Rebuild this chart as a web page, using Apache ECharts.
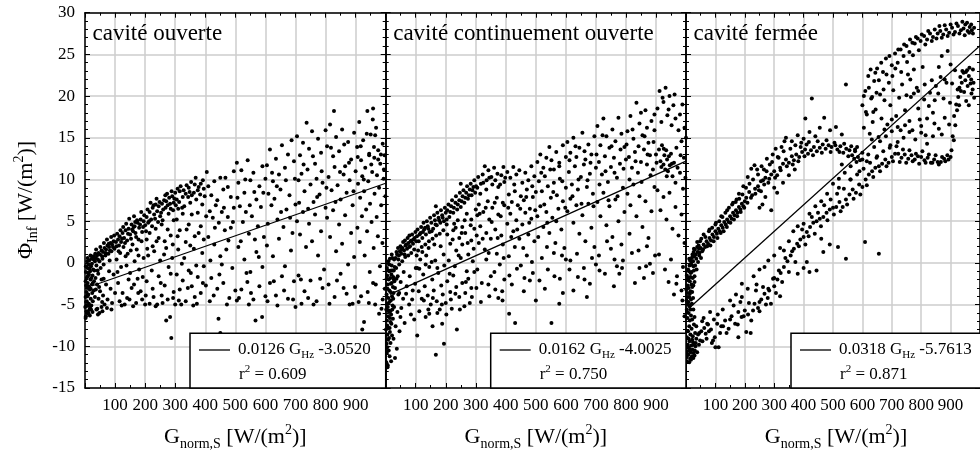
<!DOCTYPE html>
<html><head><meta charset="utf-8">
<script src="https://cdn.jsdelivr.net/npm/echarts@6/dist/echarts.min.js"></script>
<style>html,body{margin:0;padding:0;background:#fff}#c{width:980px;height:456px}</style>
</head><body><div id="c"></div>
<script>
// ---------- data ----------
const panelTitles = ['cavité ouverte', 'cavité continuement ouverte', 'cavité fermée'];
const fitSlope = ['0.0126', '0.0162', '0.0318'];
const fitIntercept = ['-3.0520', '-4.0025', '-5.7613'];
const fitR2 = ['0.609', '0.750', '0.871'];
const fitLineOuverte = [[27, -2.71], [1000, 9.55]];
const fitLineContinu = [[14, -3.78], [1000, 12.20]];
const fitLineFermee = [[12, -5.38], [1000, 26.04]];

const ptsOuverte = [
[3,-6.4],[5,-5.8],[4,-5.2],[6,-4.6],[8,-4.0],[5,-3.5],[7,-3.0],[9,-2.4],[6,-1.8],[10,-1.2],[8,-0.6],[12,-0.2],[14,0.3],[4,-2.7],[11,-3.8],[13,-4.9],[15,-5.6],[16,-3.2],[18,-2.0],[17,-1.0],[20,-0.4],[22,0.5],[19,-4.3],[21,-5.1],[23,-2.6],[25,-1.5],[24,-3.6],[27,-0.8],[28,0.8],[26,-4.6],[10,-5.9],[2,-4.1],[3,-1.1],[12,-6.1],[14,-2.9],[30,-2.2],[29,-3.3],[7,0.2],[16,-6.3],[20,-5.6],
[1,-5.3],[2,-2.2],[3,-0.4],[4,-4.7],[6,-6.0],[7,-3.9],[9,-1.6],[11,-2.8],[13,-1.4],[15,-0.7],[17,-5.3],[19,-3.1],[21,-1.8],[23,-0.1],[25,-5.9],[26,-2.4],[31,-0.9],[33,-4.1],[36,-3.2],[41,-5.5],[44,-1.3],[47,-2.9],[52,-0.6],[57,-4.7],[62,-1.9],[34,1.1],[29,0.4],[18,0.9],[9,0.6],[2,-6.6],[12,-5.1],[43,-6.2],[58,-5.8],[73,-5.4],[88,-5.6],
[33,0.2],[36,0.6],[40,0.9],[45,1.2],[50,1.0],[55,1.5],[60,1.3],[65,1.8],[70,1.6],[75,2.1],[80,1.9],[85,2.4],[90,2.2],[95,2.6],[38,-0.3],[48,0.2],[58,0.5],[68,0.9],[78,1.1],[88,1.4],[98,1.7],[42,-0.9],[62,-0.2],[82,0.3],
[37,1.6],[43,0.4],[51,1.9],[57,0.8],[63,2.4],[69,1.2],[73,2.8],[79,2.3],[83,1.5],[87,3.1],[93,1.9],[97,3.3],[103,2.5],[107,3.5],[113,2.1],[118,3.9],[123,2.9],[127,4.3],[133,2.4],[137,4.7],[143,3.5],[147,5.3],[153,2.9],[157,4.0],[163,5.6],[168,3.6],[173,5.1],[178,2.8],[183,4.6],[187,6.1],[193,4.3],[197,5.7],[203,3.8],[208,6.4],[213,5.0],[218,7.2],[223,4.4],[228,6.9],[233,5.3],[238,7.7],[243,4.9],[248,7.3],[253,6.0],[258,5.1],[263,7.5],[268,6.6],[273,8.3],[278,5.9],[283,7.1],[288,8.6],[293,6.3],[297,7.7],[302,6.9],[308,8.9],[313,7.3],[318,9.2],[323,6.6],[328,8.7],[338,9.3],[343,7.9],[348,8.5],[353,9.7],[362,8.4],[368,10.2],[378,9.1],[383,8.2],[392,9.9],[398,8.0],
[35,-1.8],[40,-2.6],[50,-3.4],[55,-2.0],[60,-3.9],[70,-2.6],[75,-4.4],[85,-3.1],[90,-4.8],[95,-1.4],[65,-5.0],[45,-4.3],[100,-3.6],[80,-1.0],[55,-5.3],[38,-5.6],[48,-6.0],
[105,2.0],[110,2.8],[115,3.2],[120,2.5],[125,3.6],[130,3.0],[135,3.9],[140,2.7],[145,4.1],[150,3.4],[155,4.6],[160,3.8],[165,4.4],[170,3.1],[175,4.8],[180,4.2],[185,5.2],[190,3.7],[195,5.0],[200,4.5],[112,1.4],[128,1.9],[142,1.1],[158,2.2],[172,1.6],[188,2.6],[167,4.9],[162,4.3],
[105,0.4],[120,-0.5],[135,0.8],[150,-1.2],[165,0.2],[180,-0.8],[195,0.6],[110,-2.4],[125,-3.6],[140,-4.2],[155,-3.0],[170,-4.8],[185,-3.4],[200,-5.0],[115,-4.6],[145,-2.0],[175,-1.9],[190,-4.4],[132,-5.0],[160,-5.2],
[205,5.5],[210,4.8],[215,6.1],[220,5.2],[225,6.6],[230,5.8],[235,7.0],[240,6.2],[245,6.8],[250,5.6],[256,7.1],[260,6.4],[267,8.1],[270,7.4],[275,6.9],[280,7.8],[285,6.5],[290,8.0],[295,7.2],[300,8.4],
[205,2.8],[215,3.6],[225,2.0],[235,4.1],[245,3.0],[255,4.6],[265,2.6],[275,4.0],[285,3.3],[295,5.1],[210,0.9],[230,1.4],[250,0.3],[270,1.8],[290,0.6],
[205,-2.2],[215,-4.9],[225,-3.1],[235,-5.2],[245,-1.6],[255,-3.9],[265,-2.7],[275,-4.4],[285,-1.3],[295,-3.5],[283,-6.5],[287,-9.0],[270,-6.9],[240,-5.0],[300,-5.0],
[305,7.6],[315,8.6],[325,7.9],[335,8.3],[345,9.0],[355,8.1],[365,9.4],[375,8.7],[385,9.5],[395,8.9],[310,6.5],[330,6.8],[350,7.2],[370,7.6],[390,7.0],
[305,5.2],[315,3.9],[325,5.9],[335,2.5],[345,4.6],[355,5.8],[365,3.2],[375,6.0],[385,4.4],[395,2.8],[310,1.6],[330,0.6],[350,2.1],[370,-0.3],[390,1.2],
[305,-1.4],[315,-3.2],[325,-2.1],[335,-4.6],[345,-0.9],[355,-2.8],[365,-4.1],[375,-1.7],[385,-3.6],[395,-0.4],[320,-5.0],[360,-5.1],
[108,-1.1],[117,1.2],[138,-0.3],[152,1.5],[163,-2.6],[178,0.9],[192,-1.7],[207,1.7],[222,-0.9],[238,2.6],[252,-2.4],[263,1.0],[278,-0.5],[292,2.2],[308,3.2],[322,-0.1],[338,4.0],[352,-1.2],[362,1.7],[378,3.6],[392,-2.4],[403,5.6],[417,0.3],[432,4.2],[447,-1.4],[462,6.6],[477,2.7],[492,4.9],[507,7.8],[518,2.6],[533,10.0],[548,6.9],[563,8.5],[578,0.7],[593,8.4],[608,4.7],[622,10.8],[638,9.2],[652,6.1],[668,9.9],[682,5.4],[698,10.1],[712,7.2],[727,11.8],[742,6.5],[758,12.8],[772,7.9],[787,11.0],[803,9.0],[818,13.8],[833,7.3],[848,10.9],[862,14.2],[878,12.0],[893,8.6],[907,12.7],[917,14.0],[927,10.0],[937,15.5],[952,11.8],[961,13.9],[971,10.5],[984,13.0],[994,11.2],[999,8.0],
[122,-5.1],[148,-4.4],[177,-3.6],[202,-3.9],[228,-4.1],[258,-4.8],[293,-4.2],[312,-4.5],[342,-3.0],[372,-4.9],[402,-2.7],[428,-3.9],[472,-5.0],[512,-4.2],[537,-1.2],[552,-3.6],[607,-4.6],[628,-2.2],[662,-3.3],[692,-4.4],[718,-2.0],[742,-4.2],[782,-1.9],[813,-4.9],[838,-2.1],[898,-2.9],[918,-4.0],[944,-4.8],[958,-2.4],[986,-5.5],
[405,10.9],[410,9.2],[420,8.1],[430,9.8],[440,7.5],[450,10.2],[460,8.8],[467,10.2],[475,9.1],[485,7.9],[495,11.0],[505,12.0],[415,6.2],[425,5.4],[435,6.9],[445,4.8],[455,6.1],[465,3.9],[475,5.5],[485,4.2],[495,6.6],[410,3.1],[430,2.2],[450,0.8],[470,1.6],[490,-0.6],[420,-1.8],[440,-3.1],[460,-2.4],[480,-4.2],[500,-3.3],[444,-6.7],[450,-8.4],[415,-4.6],[505,-4.5],[455,-0.2],
[510,9.6],[520,11.1],[530,8.4],[541,12.3],[550,9.9],[560,10.8],[570,7.6],[580,9.2],[590,11.6],[600,10.1],[515,6.8],[525,4.9],[535,6.1],[545,3.5],[555,5.6],[565,2.8],[575,4.4],[585,6.7],[595,3.1],[510,1.9],[530,0.4],[550,-1.1],[570,1.3],[590,-0.5],[520,-3.2],[540,-2.3],[560,-4.4],[580,-2.8],[600,-4.0],[567,-6.9],[589,-6.5],[545,-5.0],
[605,11.7],[615,13.6],[625,9.8],[635,12.5],[645,10.6],[655,14.1],[665,11.4],[675,13.0],[687,14.7],[695,12.2],[610,8.3],[620,6.9],[630,7.7],[640,5.2],[650,8.8],[660,4.3],[670,6.4],[680,8.1],[690,3.6],[700,7.0],[605,2.1],[625,0.8],[645,2.9],[665,-0.4],[685,1.5],[615,-2.4],[635,-3.9],[655,-1.6],[675,-4.3],[695,-2.2],[700,-5.3],[640,-5.1],
[705,15.2],[715,12.9],[725,14.4],[737,16.8],[745,13.7],[755,15.8],[765,11.9],[775,14.9],[785,13.2],[800,15.9],[710,9.9],[720,10.7],[730,8.6],[740,11.2],[750,9.4],[760,7.3],[770,10.1],[780,8.2],[790,9.6],[800,6.6],[705,5.0],[715,3.4],[725,6.1],[735,1.9],[745,4.7],[755,2.6],[765,5.8],[775,0.9],[785,3.8],[795,-0.8],[710,-1.5],[730,-3.4],[750,-2.1],[770,-4.6],[790,-3.0],[760,-5.0],[720,-4.9],
[805,14.0],[815,16.6],[825,12.8],[828,18.2],[835,15.1],[845,13.4],[855,16.0],[865,11.6],[875,14.5],[885,12.4],[895,15.6],[810,10.3],[820,8.7],[830,11.5],[840,9.3],[850,7.6],[860,10.6],[870,8.4],[880,9.9],[890,6.9],[900,11.0],[805,5.4],[815,3.1],[825,6.3],[835,1.4],[845,4.6],[855,2.3],[865,5.7],[875,-0.2],[885,3.6],[895,0.7],[810,-2.6],[830,-4.1],[850,-1.3],[870,-3.7],[890,-4.9],[880,-5.0],[860,-3.0],
[905,13.9],[912,16.9],[918,12.3],[925,14.7],[932,11.4],[939,18.2],[945,13.1],[950,15.4],[958,18.5],[962,12.6],[968,16.2],[975,13.5],[982,11.9],[990,14.3],[996,12.9],[908,9.5],[915,7.8],[922,10.4],[928,8.6],[935,6.4],[942,9.8],[948,7.1],[955,10.9],[963,8.3],[970,5.5],[978,9.0],[985,6.9],[993,10.1],[906,4.2],[914,2.5],[921,5.6],[930,0.9],[938,3.8],[947,-1.1],[953,4.9],[960,1.8],[967,-2.6],[974,3.2],[981,-0.4],[989,2.4],[997,-3.1],[910,-4.7],[922,-8.0],[928,-7.1],[940,-3.5],[965,-5.0],[978,-6.1],[990,-4.4],[957,17.2],[965,15.3],[945,12.9],[975,12.4]
];

const ptsContinu = [
[2,-11.9],[4,-10.8],[3,-9.7],[6,-8.6],[5,-7.5],[8,-6.4],[7,-5.3],[9,-4.2],[6,-3.1],[10,-2.0],[12,-1.0],[11,-0.2],[14,0.5],[4,-6.9],[8,-9.2],[13,-7.8],[15,-5.8],[12,-4.7],[16,-3.5],[17,-2.5],[19,-1.4],[20,-0.3],[22,0.6],[18,-6.2],[21,-4.0],[24,-2.9],[25,-1.7],[23,-5.1],[27,-0.9],[28,0.4],[3,-3.8],[5,-1.5],[10,-10.5],[14,-8.3],[26,-3.6],[29,-2.2],[30,-0.5],[7,-12.3],[11,-5.9],[16,-7.1],[37,-10.3],
[1,-8.0],[2,-5.6],[3,-1.9],[4,-0.6],[5,-10.1],[6,-4.9],[7,-2.6],[8,-7.8],[9,-0.9],[10,-5.7],[11,-9.0],[12,-3.3],[13,-11.2],[14,-6.6],[15,-1.8],[16,-9.6],[17,-4.5],[18,-0.9],[19,-7.3],[20,-2.4],[21,-8.7],[22,-5.6],[23,-0.9],[24,-6.7],[25,-4.3],[26,-9.1],[27,-2.0],[28,-5.3],[31,-3.0],[33,-7.6],[36,-1.9],[39,-5.9],[42,-3.8],[46,-8.2],[49,-6.5],[6,-12.5],[18,-11.8],[31,-11.4],[9,0.2],[20,1.0],
[33,0.6],[38,1.0],[42,0.4],[47,1.4],[52,1.1],[56,1.8],[61,1.5],[66,2.1],[71,1.7],[76,2.4],[81,2.0],[86,2.7],[91,2.3],[96,3.0],[35,-0.6],[45,-0.2],[55,0.2],[65,0.7],[75,0.9],[85,1.2],[95,1.6],[40,-1.6],[50,-2.3],[60,-1.1],[70,-2.8],[80,-1.6],[90,-3.3],[100,-0.6],[45,-3.6],[58,-4.3],[68,-3.7],[78,-5.0],[88,-4.4],[98,-2.5],[52,-5.4],[84,-6.2],[95,-6.8],[63,-7.2],
[36,1.3],[41,1.8],[44,0.9],[49,2.0],[53,1.6],[58,2.5],[63,1.0],[64,2.7],[68,2.2],[73,3.0],[78,1.9],[79,3.3],[83,2.6],[88,3.4],[93,2.8],[99,3.7],[102,2.6],[106,4.0],[113,3.4],[118,4.3],[124,3.7],[126,4.8],[131,4.2],[137,5.0],[142,4.1],[148,5.4],[153,3.8],[161,5.7],[166,4.6],[172,6.0],[178,5.1],[184,6.3],[190,5.4],[197,6.6],[203,5.2],[209,7.0],[215,6.1],[221,7.5],[227,6.6],[234,8.0],[240,7.0],[247,8.4],[253,7.4],[259,8.7],[265,7.8],[271,9.2],[277,8.1],[283,9.5],[289,8.7],[295,9.9],[301,9.2],[308,10.3],[317,9.5],[323,10.6],[336,9.9],[342,11.1],[352,10.3],[361,11.4],[372,10.7],[381,9.4],[392,11.5],[398,10.2],
[104,3.2],[110,2.6],[116,3.6],[122,3.0],[128,4.0],[134,3.4],[140,4.4],[146,3.7],[152,4.8],[158,4.1],[164,5.1],[170,4.5],[176,5.4],[182,4.8],[188,5.7],[194,5.0],[200,6.0],[167,6.8],[108,1.5],[120,1.9],[132,2.2],[144,2.6],[156,2.9],[168,3.3],[180,3.5],[192,3.9],
[105,-0.6],[115,0.4],[125,-1.4],[135,0.9],[145,-0.5],[155,-2.0],[165,0.3],[175,-1.2],[185,-2.7],[195,-0.3],[110,-3.4],[120,-4.3],[130,-2.8],[140,-3.9],[150,-5.0],[160,-3.3],[170,-4.6],[180,-5.6],[190,-3.8],[200,-4.8],[105,-8.7],[133,-6.5],[145,-6.1],[167,-11.0],[194,-9.7],[188,-7.3],[156,-7.6],
[103,0.9],[112,-0.7],[122,1.3],[133,-0.2],[143,1.8],[153,0.1],[162,2.2],[172,-0.6],[183,2.0],[193,1.0],[203,4.6],[213,-1.3],[223,2.8],[233,4.2],[243,0.9],[253,3.6],[263,5.1],[273,2.4],[283,4.5],[293,1.7],[303,3.3],[313,5.9],[323,2.9],[333,6.6],[343,1.2],[353,4.9],[363,7.2],[373,3.0],[383,5.6],[393,0.6],[408,6.6],[418,3.1],[428,9.4],[438,4.0],[448,6.5],[458,1.8],[468,7.9],[478,4.8],[488,9.2],[498,6.3],[508,3.1],[518,10.8],[528,7.0],[538,4.8],[548,11.2],[558,8.5],[568,5.0],[578,11.6],[588,9.8],[598,6.6],[612,12.3],[622,8.0],[632,14.0],[642,10.0],[652,7.1],[662,13.4],[672,9.9],[682,12.0],[692,6.8],[702,13.0],[712,9.4],[722,15.3],[732,11.0],[742,7.5],[752,14.0],[762,10.8],[772,8.0],[782,13.6],[792,11.3],[802,14.2],[812,10.0],[822,16.0],[832,12.2],[842,14.0],[852,9.7],[862,15.2],[872,13.0],[882,10.5],[892,14.5],[902,12.0],
[112,-5.8],[127,-4.5],[142,-5.6],[157,-4.2],[172,-6.0],[187,-5.0],[202,-6.2],[217,-4.4],[232,-3.7],[247,-5.6],[267,-2.3],[287,-4.1],[302,-3.0],[317,-4.7],[342,-2.6],[362,-1.1],[388,-3.4],[412,-1.5],[437,-0.7],[462,-1.8],[487,0.1],[512,-2.1],[537,1.9],[562,-1.6],[587,0.9],[612,-0.8],[637,1.1],[662,-2.0],[687,0.6],[712,-0.9],[737,2.6],[762,0.4],[787,-0.6],[812,3.5],[842,1.5],[867,-0.4],[897,0.9],[942,-2.3],[968,-2.5],[988,-4.5],
[205,6.3],[212,5.5],[218,6.8],[225,6.0],[232,7.2],[238,6.4],[245,7.5],[250,6.7],[256,8.0],[262,7.2],[268,8.4],[274,7.7],[280,8.8],[286,8.1],[292,9.1],[298,8.4],[250,9.5],[228,4.7],[240,5.1],[255,4.3],[270,5.9],[285,5.2],[300,6.4],
[205,3.4],[215,2.3],[225,3.9],[235,1.5],[245,3.0],[255,2.2],[265,3.6],[275,1.0],[285,2.7],[295,4.1],[210,0.3],[230,-0.4],[250,0.6],[270,-1.0],[290,0.2],
[205,-2.2],[215,-3.5],[225,-1.5],[235,-2.9],[245,-4.1],[255,-2.4],[265,-3.6],[275,-1.9],[285,-3.0],[295,-1.1],[237,-8.0],[220,-5.5],[262,-5.2],[280,-4.8],
[305,9.0],[315,8.3],[325,9.6],[335,8.8],[345,10.2],[355,9.4],[365,9.9],[375,9.1],[385,10.5],[395,9.7],[330,11.6],[310,7.0],[340,7.4],[370,7.8],[390,7.2],
[305,5.7],[315,4.4],[325,6.1],[335,3.6],[345,5.2],[355,6.6],[365,4.0],[375,5.8],[385,3.3],[395,6.9],[310,2.4],[330,1.6],[350,2.9],[370,1.1],[390,2.2],
[305,-0.8],[320,-2.4],[335,0.4],[350,-1.6],[365,-3.2],[380,-0.2],[395,-2.0],[345,-4.0],[375,-4.2],[389,-4.5],
[405,10.9],[415,10.2],[425,11.5],[435,10.6],[445,11.1],[455,9.6],[465,10.8],[475,9.9],[485,11.6],[495,10.4],[410,8.2],[420,7.3],[430,8.6],[440,6.9],[450,8.0],[460,7.5],[470,8.8],[480,6.5],[490,7.9],[500,8.5],[405,4.7],[415,5.9],[425,3.8],[435,5.1],[445,2.9],[455,4.6],[465,6.0],[475,3.4],[485,5.3],[495,2.6],[410,0.8],[430,1.9],[450,-0.3],[470,0.9],[490,-1.2],[411,-6.1],[431,-7.2],[420,-2.6],[460,-3.4],[480,-2.1],[500,-4.5],
[505,12.1],[515,13.0],[525,11.4],[535,12.6],[545,13.9],[552,12.3],[560,11.2],[568,13.3],[578,12.0],[590,14.1],[600,12.7],[510,9.8],[520,8.6],[530,10.4],[540,9.2],[550,7.8],[560,9.6],[570,8.1],[580,10.1],[590,7.4],[600,9.0],[505,5.6],[515,6.8],[525,4.3],[535,6.1],[545,3.6],[555,5.4],[565,2.4],[575,6.5],[585,4.0],[595,1.8],[520,0.6],[540,-0.8],[560,1.2],[580,-1.9],[600,0.4],[552,-7.2],[578,-4.9],[530,-3.1],[590,-3.6],
[605,14.5],[615,13.2],[625,15.0],[635,12.7],[645,13.8],[655,15.6],[665,12.4],[675,14.2],[685,13.0],[695,15.2],[610,10.9],[620,9.4],[630,11.6],[640,8.8],[650,10.3],[660,11.8],[670,9.1],[680,10.7],[690,8.3],[700,11.4],[605,6.2],[615,7.7],[625,4.8],[635,6.9],[645,3.5],[655,5.7],[665,2.6],[675,7.1],[685,4.2],[695,1.9],[615,0.3],[640,-1.7],[660,-0.6],[680,-2.5],[700,-0.2],[670,-4.1],[625,-3.3],
[705,16.4],[715,14.1],[725,17.3],[735,15.2],[745,13.8],[755,16.0],[765,14.6],[775,17.4],[785,15.5],[795,13.9],[710,12.1],[720,10.6],[730,12.8],[740,9.7],[750,11.5],[760,12.6],[770,10.2],[780,11.9],[790,9.0],[800,12.4],[705,7.3],[715,5.6],[725,8.4],[735,4.5],[745,6.8],[755,3.1],[765,7.6],[775,5.0],[785,2.2],[795,6.1],[710,0.9],[730,-1.3],[750,1.7],[770,-0.4],[790,0.3],[778,-1.3],[760,-2.8],
[805,15.8],[815,17.6],[825,14.9],[835,19.2],[845,16.7],[855,15.3],[865,18.3],[875,14.4],[885,17.0],[895,15.9],[810,12.7],[820,11.4],[830,13.3],[840,10.8],[850,12.1],[860,13.6],[870,11.8],[880,12.9],[890,11.2],[900,13.0],[805,8.3],[815,6.9],[825,9.4],[835,5.6],[845,8.0],[855,4.3],[865,7.4],[875,3.0],[885,6.2],[895,9.1],[820,1.2],[845,-0.6],[870,2.0],[890,-1.2],[830,-2.4],[860,-1.8],[880,-0.1],
[905,18.5],[912,20.6],[918,16.9],[925,19.3],[932,21.0],[938,17.7],[945,20.0],[952,16.5],[958,18.9],[965,17.3],[975,15.9],[985,14.6],[995,16.2],[910,13.6],[915,12.2],[920,14.1],[925,11.8],[928,12.9],[931,11.2],[934,13.5],[937,12.4],[940,11.0],[943,12.8],[946,11.7],[950,13.1],[955,10.4],[960,12.0],[965,9.6],[972,11.4],[980,10.8],[990,8.9],[998,10.2],[905,8.7],[915,6.3],[925,7.9],[935,5.2],[945,8.4],[955,4.1],[965,6.7],[975,3.3],[985,5.8],[995,2.4],[910,1.0],[930,-0.8],[950,0.4],[970,-1.6],[990,-0.5],[995,-6.4],[985,-3.3],[960,-3.8],
[922,19.8],[942,18.4],[962,20.2],[980,17.8],[988,19.0],[895,17.8],[870,16.2],[850,18.0],[1000,15.0],[993,12.6],[982,12.9],[968,13.8],[953,11.9],[936,10.4],[926,13.7],[918,11.5]
];

const ptsFermee = [
[2,-4.5],[4,-3.6],[6,-2.7],[8,-1.8],[10,-1.0],[12,-0.3],[14,0.3],[5,-2.0],[9,-3.0],[13,-2.2],[16,-1.2],[18,-0.2],[20,0.6],[22,1.0],[24,0.2],[26,1.3],[28,0.8],[30,1.6],[11,-4.1],[15,-3.4],[19,-2.6],[23,-1.8],[27,-0.9],[7,-5.0],[3,-5.6],[17,-4.4],[21,-3.5],[25,-2.7],[29,-1.6],
[1,-3.2],[3,-1.5],[5,-4.1],[7,-0.8],[9,-2.1],[11,0.5],[13,-3.7],[15,-1.7],[17,0.2],[19,-1.1],[21,-2.9],[23,0.8],[25,-0.4],[27,1.7],[29,-2.3],[31,-0.3],[33,1.0],[36,-0.8],[38,1.9],[41,0.1],[43,2.1],[46,1.2],[48,2.6],[51,0.6],[4,-5.9],[8,-4.7],[12,-5.2],[16,-5.6],[20,-4.9],[24,-4.2],
[2,-11.3],[4,-10.6],[6,-9.8],[8,-11.0],[10,-10.2],[12,-9.4],[14,-11.5],[16,-10.7],[18,-9.9],[20,-11.2],[22,-10.4],[24,-9.5],[26,-10.8],[28,-9.8],[30,-10.5],[3,-8.9],[7,-8.2],[11,-7.6],[15,-8.6],[19,-7.9],[23,-8.8],[27,-7.4],[5,-6.6],[9,-6.0],[13,-6.9],[17,-6.3],[21,-6.8],[25,-5.6],[29,-6.5],[31,-8.4],[33,-9.6],
[1,-10.0],[3,-11.8],[5,-11.0],[7,-10.1],[9,-9.1],[11,-11.9],[13,-10.4],[17,-11.6],[21,-9.2],[25,-11.4],[29,-11.1],[32,-10.0],[35,-9.1],[38,-10.7],[41,-8.6],[44,-9.8],[48,-9.3],[52,-8.2],[56,-9.4],[62,-7.8],[70,-9.1],[78,-8.2],[88,-9.6],[98,-8.9],[106,-7.3],[116,-8.4],[126,-7.6],
[35,0.5],[40,1.3],[45,0.9],[50,1.8],[55,1.4],[60,2.2],[65,1.9],[70,2.6],[75,2.3],[80,3.0],[85,2.7],[90,3.4],[95,3.1],[100,3.8],[105,3.5],[110,4.1],[115,3.8],[120,4.5],[125,4.2],[130,4.9],[135,4.6],[140,5.2],[145,4.9],[150,5.6],[155,5.3],[160,6.0],[165,5.7],[170,6.3],[175,6.0],[180,6.7],[185,6.4],[190,7.1],[195,6.8],[200,7.4],
[38,2.5],[44,1.7],[52,2.9],[58,1.6],[66,3.1],[72,2.0],[78,3.8],[83,2.1],[89,4.2],[94,2.6],[102,4.8],[107,3.0],[113,5.0],[118,3.6],[124,5.5],[128,3.8],[134,6.0],[139,4.3],[146,6.6],[151,4.8],[157,7.0],[163,5.2],[169,7.3],[174,5.6],[181,7.7],[186,6.1],[192,8.2],[198,6.6],[204,9.0],[209,7.2],[216,9.5],[221,7.8],[228,10.0],[236,8.3],[242,11.2],[248,8.7],[257,11.6],[266,9.4],[274,11.0],[283,10.1],[293,12.1],[303,10.2],[312,12.7],[322,11.1],[332,13.4],[343,11.6],[355,13.7],[363,11.8],[372,14.1],[382,12.2],[392,14.4],[403,12.8],[418,14.5],[432,12.9],[448,14.6],[462,13.2],[478,14.7],[492,13.3],[508,14.1],[522,13.3],[538,14.3],[552,12.8],[562,14.0],[572,12.5],[582,13.9],[592,12.3],
[60,3.4],[80,4.0],[100,4.6],[120,5.6],[140,6.3],[160,7.2],[172,7.6],[180,8.3],[195,9.2],[210,10.3],[222,11.3],[233,11.7],[245,10.6],[255,9.8],[265,11.2],[275,12.5],[285,11.8],[295,13.0],[305,13.7],[315,12.6],[325,13.9],[335,14.6],
[205,7.8],[215,8.5],[225,8.1],[235,8.9],[245,9.2],[255,8.6],[262,9.9],[270,10.2],[280,9.6],[290,10.6],[300,11.0],[310,10.5],[320,11.4],[330,11.9],[340,12.4],[350,12.0],[360,12.8],[367,12.3],[375,13.0],[385,12.7],[395,13.3],[405,13.6],[415,13.1],[425,13.5],[435,13.9],[445,13.4],[455,13.8],[465,14.2],[475,13.7],[485,14.1],[495,13.9],[505,14.4],[515,13.6],[525,14.0],[535,13.2],[545,13.7],[556,13.5],[565,12.9],[575,13.4],[585,12.7],[600,13.2],
[340,15.0],[360,14.6],[380,15.3],[400,14.9],[406,17.3],[420,15.7],[428,19.7],[440,15.2],[455,16.2],[470,17.4],[490,15.9],[510,16.3],[530,15.4],[544,21.4],[390,13.9],[410,14.2],
[250,6.6],[270,7.9],[290,6.3],[310,8.4],[330,9.6],[350,10.5],[370,11.2],[300,9.0],[260,7.0],
[600,18.9],[610,20.6],[620,22.4],[630,19.7],[640,21.8],[650,23.3],[660,20.2],[670,22.9],[680,24.5],[690,21.6],[700,23.7],[711,25.1],[720,24.0],[730,25.6],[740,24.8],[750,26.0],[760,25.3],[770,26.4],[778,26.3],[788,26.9],[798,26.6],[810,27.2],[820,26.8],[830,27.5],[840,27.1],[856,27.5],[865,27.8],[875,27.4],[885,28.0],[895,27.6],[905,28.2],[915,27.7],[925,28.4],[935,27.9],[944,28.1],[950,28.6],[958,27.8],[965,28.3],[972,27.9],[980,28.2],
[605,20.0],[612,18.1],[622,21.0],[628,23.2],[637,18.1],[648,20.4],[656,21.9],[664,24.0],[672,20.8],[682,22.6],[692,24.8],[702,22.4],[712,23.3],[722,25.6],[732,22.9],[742,26.2],[752,24.1],[762,26.8],[772,24.9],[782,27.1],[792,25.5],[802,27.4],[814,26.2],[824,27.8],[836,26.6],[846,28.0],[852,26.9],[862,28.4],[870,27.0],[880,28.5],[890,27.2],[900,28.6],[910,27.4],[920,28.7],[930,27.5],[940,28.9],[948,27.3],[956,28.8],[963,27.6],[970,28.6],[976,27.5],[790,20.6],[805,23.5],[812,21.4],[826,18.8],[836,21.9],[846,19.5],[858,20.3],[866,22.3],[876,19.7],[886,21.6],[898,19.2],[775,20.3],[763,22.0],[750,20.1],
[605,16.2],[615,17.8],[625,15.5],[635,16.9],[645,18.4],[655,15.1],[665,17.3],[675,19.5],[685,16.6],[695,18.9],[705,20.7],[715,17.6],[725,19.8],[735,21.4],[745,18.3],[755,22.6],[765,19.9],[775,23.2],[785,21.0],[633,19.9],[644,22.8],[700,17.2],[730,15.9],[760,17.0],[790,18.5],[800,16.4],[810,19.6],[820,17.3],[830,20.4],[840,18.0],[850,21.2],[860,23.5],[870,24.8],[880,22.0],[890,25.4],[900,23.8],
[35,-7.6],[45,-8.4],[55,-7.0],[67,-8.5],[75,-7.4],[85,-8.0],[95,-6.8],[111,-10.1],[120,-7.6],[133,-6.9],[145,-7.9],[155,-6.4],[167,-7.3],[178,-5.9],[189,-6.5],[200,-5.7],[211,-6.2],[222,-6.9],[233,-4.9],[245,-5.4],[256,-4.4],[267,-3.7],[278,-4.2],[289,-4.9],[300,-2.8],[311,-2.0],[322,-1.2],[333,-0.5],[345,0.2],[356,0.9],[367,1.7],[378,2.3],[389,2.8],[400,3.1],[411,3.7],[422,4.3],[433,4.8],[444,5.0],[455,5.3],[467,5.5],[478,6.0],[489,6.4],[500,6.6],[511,6.7],[522,7.3],[533,6.7],[544,7.6],[556,8.2],[567,8.8],[578,8.4],[589,9.4],[600,9.1],[611,10.0],[622,10.6],[633,11.0],[644,11.4],[656,11.6],[667,11.9],[678,12.4],[689,12.0],[700,12.7],[711,13.1],[722,13.1],[733,12.6],[744,13.0],[756,12.5],[767,12.9],[778,12.4],[789,12.8],[800,12.7],[811,12.3],[822,12.6],[833,12.0],[844,12.4],[856,12.1],[867,12.1],[878,12.5],[889,12.9],[900,12.7],[911,14.7],[916,16.5],[922,18.3],[926,19.9],[930,21.0],[933,22.3],[938,21.6],[944,22.8],[950,21.9],[956,23.1],[962,22.4],[968,21.5],[975,20.8],[980,19.8],
[60,-6.6],[72,-7.3],[82,-5.9],[100,-10.1],[92,-9.3],[108,-6.2],[125,-5.6],[138,-8.4],[150,-6.8],[162,-5.1],[176,-7.4],[185,-4.7],[196,-6.4],[205,-8.3],[214,-4.8],[228,-5.7],[238,-3.3],[250,-4.7],[262,-2.9],[272,-5.0],[283,-3.3],[296,-1.9],[306,-3.6],[316,-0.9],[327,-2.3],[338,0.6],[350,-1.1],[361,1.4],[372,0.1],[384,2.0],[395,4.0],[406,2.2],[417,3.2],[428,5.5],[438,3.5],[449,6.0],[459,4.4],[470,6.9],[481,5.1],[492,7.6],[503,5.8],[514,8.3],[526,6.2],[537,8.9],[548,7.0],[559,10.0],[570,7.7],[582,10.6],[593,8.2],[604,11.3],[615,9.3],[626,12.0],[637,10.3],[648,12.6],[660,11.0],[671,13.4],[682,11.6],[693,13.8],[704,12.2],[716,14.0],[727,12.1],[738,13.6],[749,12.0],[760,13.5],[771,12.2],[782,13.1],[793,11.9],[804,13.4],[815,12.0],[826,13.0],[838,12.0],[849,12.9],[860,11.8],[871,12.7],[882,12.2],[893,12.4],[903,13.5],[907,15.2],[912,17.6],[919,19.0],[924,20.8],[929,18.9],[935,20.6],[940,23.0],[946,20.5],[952,22.9],[958,21.2],[964,23.4],[970,22.0],[976,23.2],[953,19.4],[962,18.9],[971,20.3],[978,21.6],
[150,-4.5],[170,-3.8],[190,-2.5],[210,-3.1],[230,-1.6],[250,-0.8],[267,-0.5],[280,0.3],[300,0.9],[320,1.8],[333,1.5],[350,2.6],[365,3.8],[380,4.4],[400,4.7],[420,5.9],[440,6.8],[460,7.4],[480,8.3],[500,9.5],[520,10.1],[540,10.8],[560,11.6],[580,12.1],[600,12.4],[620,13.0],[640,13.9],[660,14.6],[680,15.2],[700,15.8],[720,16.3],[740,15.0],[760,15.7],[780,14.8],[800,15.6],[820,14.3],[840,15.2],[860,16.1],[880,17.4],
[520,9.0],[530,11.8],[560,10.0],[575,13.6],[590,11.0],[615,12.2],[632,14.8],[650,12.8],[675,16.0],[695,14.1],[720,14.5],[745,16.5],[770,15.9],[795,17.2],[815,15.3],[845,16.7],[870,15.4],[895,16.6],[905,21.5],[915,23.1],
[544,0.5],[517,1.9],[609,2.5],[656,1.1],[400,-0.6],[420,-1.1],[467,1.3],[489,2.2],[460,2.9],[380,-1.3],[280,-3.1],[300,-1.8],[250,-5.8],[220,-8.4],[178,-8.9],[240,-2.6],[190,-4.1],[320,-4.0],[411,0.1],[444,-0.9]
];

const panelPoints = [ptsOuverte, ptsContinu, ptsFermee];
const fitLines = [fitLineOuverte, fitLineContinu, fitLineFermee];

// ---------- layout ----------
const FF = 'Liberation Serif';
const TOP = 12.7, H = 375.3;
const lefts = [85, 385.7, 686];
const widths = [300.7, 300.3, 300];

const grids = [], xAxes = [], yAxes = [], series = [], graphics = [];
const black = '#000';
const gridLine = {show: true, lineStyle: {color: '#cccccc', width: 1.5}};
const rich = {
  n: {fontFamily: FF, fontSize: 22, color: black, lineHeight: 28},
  sb: {fontFamily: FF, fontSize: 14, color: black, lineHeight: 15, verticalAlign: 'bottom'},
  sp: {fontFamily: FF, fontSize: 14, color: black, lineHeight: 15, verticalAlign: 'top'},
  l: {fontFamily: FF, fontSize: 17, color: black, lineHeight: 22},
  lb: {fontFamily: FF, fontSize: 11, color: black, lineHeight: 12, verticalAlign: 'bottom'},
  lp: {fontFamily: FF, fontSize: 11, color: black, lineHeight: 12, verticalAlign: 'top'}
};

for (let i = 0; i < 3; i++) {
  grids.push({left: lefts[i], top: TOP, width: widths[i], height: H, containLabel: false});
  const xa = {
    gridIndex: i, type: 'value', min: 0, max: 1000, interval: 100,
    axisLine: {show: true, onZero: false, lineStyle: {color: black, width: 1.5}},
    axisTick: {show: true, inside: true, length: 5, lineStyle: {color: black, width: 1}},
    minorTick: {show: true, splitNumber: 2, length: 3, lineStyle: {color: black, width: 1}}
  };
  xAxes.push(Object.assign({}, xa, {
    position: 'bottom', splitLine: gridLine,
    axisLabel: {show: true, showMinLabel: false, showMaxLabel: false, fontFamily: FF, fontSize: 17, color: black, margin: 9}
  }));
  xAxes.push(Object.assign({}, xa, {position: 'top', splitLine: {show: false}, axisLabel: {show: false}}));
  const ya = {
    gridIndex: i, type: 'value', min: -15, max: 30, interval: 5,
    axisLine: {show: true, onZero: false, lineStyle: {color: black, width: 1.5}},
    axisTick: {show: true, inside: true, length: 5, lineStyle: {color: black, width: 1}},
    minorTick: {show: true, splitNumber: 5, length: 3, lineStyle: {color: black, width: 1}}
  };
  yAxes.push(Object.assign({}, ya, {
    position: 'left', splitLine: gridLine,
    axisLabel: {show: i === 0, fontFamily: FF, fontSize: 17, color: black, margin: 10}
  }));
  yAxes.push(Object.assign({}, ya, {position: 'right', splitLine: {show: false}, axisLabel: {show: false}}));

  series.push({
    type: 'scatter', xAxisIndex: 2 * i, yAxisIndex: 2 * i, data: panelPoints[i],
    symbolSize: 4, itemStyle: {color: black, opacity: 1}, z: 2, silent: true
  });
  series.push({
    type: 'line', xAxisIndex: 2 * i, yAxisIndex: 2 * i, data: fitLines[i],
    showSymbol: false, symbol: 'none', lineStyle: {color: black, width: 1.3}, z: 3, silent: true
  });

  graphics.push({
    type: 'text', left: lefts[i] + 7.5, top: 22.5, z: 50,
    style: {text: panelTitles[i], fontFamily: FF, fontSize: 23, fill: black}
  });
  const bx = lefts[i] + 105;
  const bw = lefts[i] + widths[i] - bx;
  graphics.push({
    type: 'rect', z: 60, shape: {x: bx, y: 333.3, width: bw, height: TOP + H - 333.3},
    style: {fill: '#fff', stroke: black, lineWidth: 1.5}
  });
  graphics.push({
    type: 'line', z: 61, shape: {x1: bx + 9, y1: 350, x2: bx + 40, y2: 350},
    style: {stroke: black, lineWidth: 1.3}
  });
  graphics.push({
    type: 'text', z: 61, x: bx + 48, y: 350,
    style: {text: '{l|' + fitSlope[i] + ' G}{lb|Hz}{l| ' + fitIntercept[i] + '}', rich: rich, verticalAlign: 'middle', align: 'left'}
  });
  graphics.push({
    type: 'text', z: 61, x: bx + 49, y: 375,
    style: {text: '{l|r}{lp|2}{l| = ' + fitR2[i] + '}', rich: rich, verticalAlign: 'middle', align: 'left'}
  });
  graphics.push({
    type: 'text', z: 50, x: lefts[i] + widths[i] / 2, y: 437,
    style: {text: '{n|G}{sb|norm,S}{n| [W/(m}{sp|2}{n|)]}', rich: rich, align: 'center', verticalAlign: 'middle'}
  });
}
graphics.push({
  type: 'text', z: 50, x: 26, y: 200, rotation: Math.PI / 2,
  style: {text: '{n|Φ}{sb|Inf}{n| [W/(m}{sp|2}{n|)]}', rich: rich, align: 'center', verticalAlign: 'middle'}
});

const chart = echarts.init(document.getElementById('c'), null, {renderer: 'canvas'});
chart.setOption({
  animation: false,
  backgroundColor: '#fff',
  grid: grids, xAxis: xAxes, yAxis: yAxes, series: series,
  graphic: graphics
});
</script></body></html>
